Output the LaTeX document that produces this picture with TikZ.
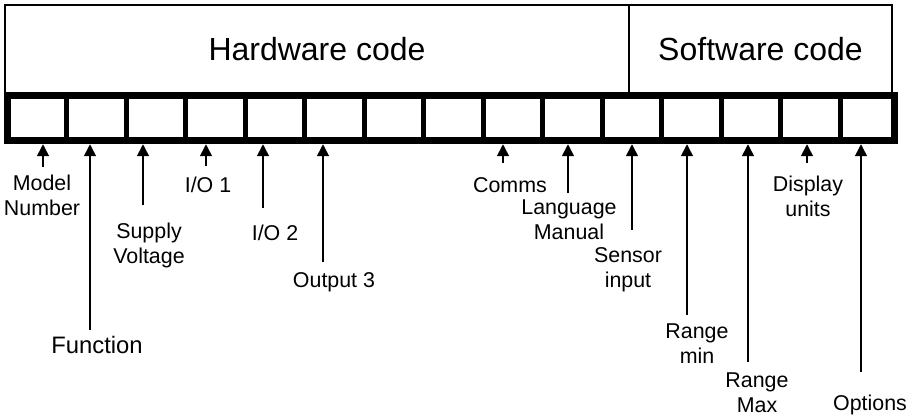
\documentclass[tikz,border=0pt]{standalone}
\usepackage{fontspec}
\setmainfont{Liberation Sans}
\usetikzlibrary{arrows.meta}

\begin{document}
\begin{tikzpicture}[
  x=0.5pt, y=-0.5pt,
  every node/.style={font=\fontsize{10.7}{12.5}\selectfont},
  field/.style={draw, line width=1pt, minimum height=44pt, inner sep=0pt, outer sep=0pt, anchor=north west, font=\fontsize{16}{19}\selectfont},
  frame/.style={draw, line width=3.5pt, minimum width=443.75pt, minimum height=22.75pt, inner sep=0pt, anchor=north west},
  divider/.style={line width=2.3pt},
  tag/.style={align=center, inner sep=0pt},
  arrow/.style={-{Triangle[length=6pt, width=6pt]}, line width=0.75pt}
]
\useasboundingbox (0,0) rectangle (917,416);
\node[field, minimum width=312pt] (hardware) at (5,5) {Hardware code};
\node[field, minimum width=131.5pt] (software) at (hardware.north east) {Software code};
\node[frame] (digits) at (3.75,91.75) {};
\foreach \i in {1,...,14}
  \draw[divider] ([xshift=1.75pt+29.75pt*\i]digits.north west) -- ([xshift=1.75pt+29.75pt*\i]digits.south west);

\node[tag] (model) at (42,195.5) {Model\\Number};
\node[tag, font=\fontsize{11.9}{14}\selectfont] (function) at (97,345) {Function};
\node[tag] (supply) at (149,245.5) {Supply\\Voltage};
\node[tag] (io1) at (208,185) {I/O 1};
\node[tag] (io2) at (275,233) {I/O 2};
\node[tag] (output) at (334,282) {Output 3};
\node[tag] (comms) at (510,185) {Comms};
\node[tag] (language) at (569,220) {Language\\Manual};
\node[tag] (sensor) at (628,270) {Sensor\\input};
\node[tag] (rangemin) at (697,343.5) {Range\\min};
\node[tag] (rangemax) at (757,392.5) {Range\\Max};
\node[tag] (display) at (808,196.5) {Display\\units};
\node[tag] (options) at (870,405) {Options};

% arrow tails sit just above each label
\foreach \name/\x/\y in {model/43/167, function/90/330, supply/143/205, io1/206/166, io2/263/208, output/323/262, comms/503/163, language/568/193, sensor/632/230, rangemin/687/315, rangemax/748/362, display/807/163, options/861/372} {
  \coordinate (t\name) at (\x,\y);
  \draw[arrow] (t\name) -- (t\name |- digits.south);
}
\end{tikzpicture}
\end{document}
